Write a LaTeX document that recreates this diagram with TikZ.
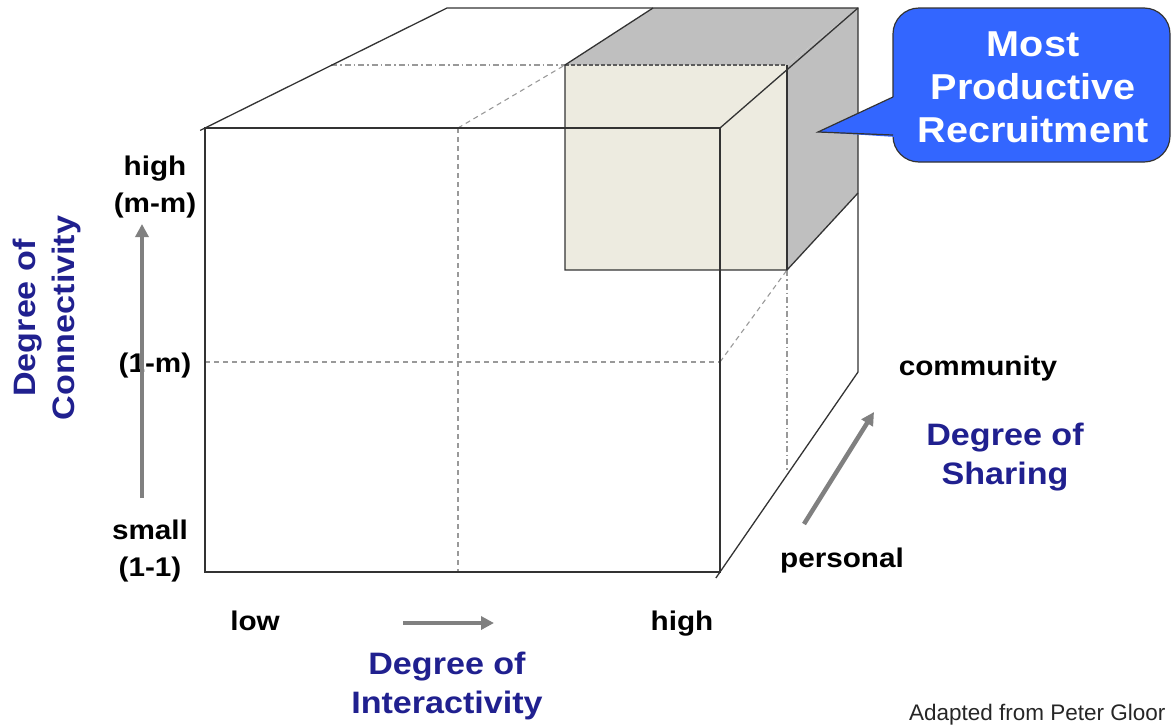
\documentclass[tikz,border=0pt]{standalone}
\usepackage{fontspec}
\setmainfont{Liberation Sans}
\newfontfamily\labfont[FakeStretch=1.1]{Liberation Sans}
\usetikzlibrary{arrows.meta,calc}
\definecolor{axisblue}{HTML}{20208F}
\definecolor{callblue}{HTML}{3366FF}
\definecolor{tanface}{HTML}{EDEBE0}
\definecolor{grayface}{HTML}{BFBFBF}
\definecolor{edge}{HTML}{333333}
\definecolor{arrowgray}{HTML}{808080}
\tikzset{
  edgeline/.style={draw=edge, line width=1.3pt},
  hidden/.style={draw=gray!80, line width=1.1pt, dash pattern=on 5pt off 4pt},
  hiddendot/.style={draw=gray!80, line width=1.1pt, dash pattern=on 6pt off 3pt on 1.5pt off 3pt},
  bluelab/.style={text=axisblue, align=center, font=\labfont\bfseries\fontsize{31}{39}\selectfont},
  blacklab/.style={text=black, align=center, font=\labfont\bfseries\fontsize{27}{37}\selectfont},
  calltext/.style={text=white, align=center, font=\labfont\bfseries\fontsize{36}{43}\selectfont},
  grayarrow/.style={draw=arrowgray, line width=4.5pt, -{Triangle[length=13pt,width=13pt]}},
}
\begin{document}
\begin{tikzpicture}[x=1pt,y=-1pt]
\useasboundingbox (0,0) rectangle (1172,726);
% big cube corners
\coordinate (FTL) at (205,128);
\coordinate (FTR) at (720,128);
\coordinate (FBR) at (720,572);
\coordinate (FBL) at (205,572);
\coordinate (BTL) at (447,8);
\coordinate (BTR) at (858,8);
\coordinate (BBR) at (858,372);
% small cube
\coordinate (STL) at (565,65);
\coordinate (STR) at (787,65);
\coordinate (SBR) at (787,270);
\coordinate (SBL) at (565,270);
\coordinate (SBTL) at (653,8);
\coordinate (SBBR) at (858,193);
% mid points
\coordinate (FTM) at (458,128);
\coordinate (FBM) at (458,572);
\coordinate (FLM) at (205,362);
\coordinate (FRM) at (720,362);
\coordinate (MTL) at (331,65);
\coordinate (MBR) at (787,472);

% shaded faces
\fill[grayface] (STL) -- (SBTL) -- (BTR) -- (STR) -- cycle;
\fill[grayface] (STR) -- (BTR) -- (SBBR) -- (SBR) -- cycle;
\fill[tanface] (STL) rectangle (SBR);

% hidden lines
\draw[hidden] (FTM) -- (FBM);
\draw[hidden] (FLM) -- (FRM);
\draw[hidden] (FTM) -- (STL);
\draw[hiddendot] (MTL) -- (STL);
\draw[hidden] (FRM) -- (SBR);
\draw[hiddendot] (SBR) -- (MBR);
\draw[draw=edge!80, line width=1.1pt, dash pattern=on 4pt off 2pt] (STL) -- (STR);

% small cube edges
\draw[edgeline] (SBBR) -- (SBR) -- (SBL) -- (STL) -- (SBTL);
\draw[edgeline] (STR) -- (SBR);

% big cube edges
\draw[edgeline] (FTL) rectangle (FBR);
\draw[edgeline] ($(FTL)!-0.02!(BTL)$) -- (BTL) -- (BTR) -- (BBR) -- ($(BBR)!1.03!(FBR)$);
\draw[edgeline] (FTR) -- (BTR);

% callout
\fill[callblue, draw=edge, line width=1.2pt, rounded corners=26pt] (893,8) rectangle (1170,162);
\fill[callblue] (818,132) -- (896,96) -- (896,137) -- cycle;
\draw[draw=edge, line width=1.2pt] (893,97) -- (818,132) -- (893,135);
\node[calltext] (call) at (1033,87) {Most\\Productive\\Recruitment};

% axis labels
\node[blacklab] (hi) at (155,187) {high\\(m-m)};
\node[blacklab, anchor=base] (mid) at (155,372) {(1-m)};
\node[blacklab] (sm) at (150,551) {small\\(1-1)};
\coordinate (va1) at (142,498);
\coordinate (va2) at (142,224);
\draw[grayarrow] (va1) -- (va2);
\node[bluelab, rotate=90] (conn) at (47,318) {Degree of\\Connectivity};

\node[blacklab, anchor=base] (low) at (255,630) {low};
\node[blacklab, anchor=base] (high) at (682,630) {high};
\coordinate (ha1) at (403,623);
\coordinate (ha2) at (494,623);
\draw[grayarrow] (ha1) -- (ha2);
\node[bluelab] (inter) at (447,686) {Degree of\\Interactivity};

\node[blacklab, anchor=base] (comm) at (978,375) {community};
\node[blacklab, anchor=base] (pers) at (842,567) {personal};
\coordinate (da1) at (804,524);
\coordinate (da2) at (874,412);
\draw[grayarrow] (da1) -- (da2);
\node[bluelab] (share) at (1005,457) {Degree of\\Sharing};

\node[anchor=base east, font=\fontsize{22.5}{24}\selectfont, text=black!85] (src) at (1169,720) {Adapted from Peter Gloor};
\end{tikzpicture}
\end{document}
